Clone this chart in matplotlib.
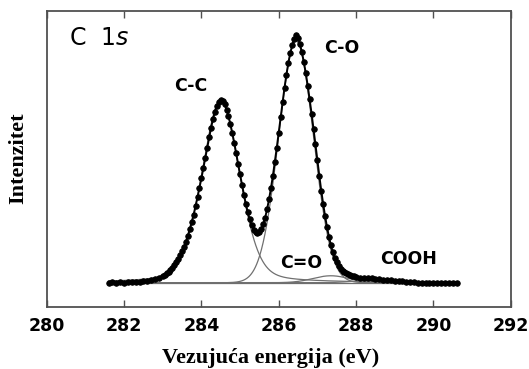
import numpy as np
import matplotlib
matplotlib.use("Agg")
import matplotlib.pyplot as plt

# --- C 1s spectrum: measured intensities (normalised, baseline = 0) ---
left_start, left_step = 281.6, 0.1
left_tail = [0.000, 0.002, -0.002, 0.001, 0.000, 0.003, 0.002, 0.004,
             0.003, 0.006, 0.007, 0.010, 0.015, 0.021, 0.029]

core_start, core_step = 283.05, 0.05
core = [
    # 283.05 - 283.95
    0.033, 0.038, 0.044, 0.052, 0.061, 0.071, 0.083, 0.096, 0.110, 0.126,
    0.145, 0.166, 0.190, 0.216, 0.245, 0.275, 0.309, 0.345, 0.382,
    # 284.00 - 284.95
    0.421, 0.462, 0.503, 0.545, 0.587, 0.625, 0.660, 0.690, 0.713, 0.728,
    0.737, 0.733, 0.720, 0.699, 0.672, 0.641, 0.604, 0.565, 0.522, 0.480,
    # 285.00 - 285.95
    0.437, 0.396, 0.356, 0.318, 0.284, 0.256, 0.232, 0.214, 0.203, 0.199,
    0.203, 0.215, 0.236, 0.263, 0.297, 0.337, 0.382, 0.432, 0.487, 0.545,
    # 286.00 - 286.95
    0.606, 0.667, 0.728, 0.787, 0.840, 0.888, 0.928, 0.959, 0.985, 1.000,
    0.988, 0.963, 0.930, 0.891, 0.846, 0.796, 0.741, 0.683, 0.622, 0.558,
    # 287.00 - 287.95
    0.494, 0.432, 0.372, 0.318, 0.268, 0.224, 0.185, 0.151, 0.123, 0.100,
    0.082, 0.068, 0.057, 0.049, 0.043, 0.038, 0.034, 0.031, 0.028, 0.026,
    # 288.00
    0.024,
]

right_start, right_step = 288.1, 0.1
right_tail = [0.020, 0.019, 0.018, 0.017, 0.016, 0.014, 0.012, 0.010, 0.009,
              0.007, 0.006, 0.005, 0.004, 0.002, 0.001, -0.001, -0.002,
              -0.003, -0.002, -0.003, -0.002, -0.001, -0.002, -0.001, 0.000,
              0.000]

# --- fitted components (pseudo-Voigt parameters) ---
comp_names = ["C-C", "C-O", "C=O", "COOH"]
comp_center = [284.50, 286.45, 287.35, 288.60]
comp_height = [0.735, 0.975, 0.028, 0.012]
comp_fwhm = [1.15, 1.06, 1.10, 1.30]
comp_lorentz = [0.25, 0.0, 0.0, 0.0]

# peak labels: (text, energy, intensity)
label_text = ["C-C", "C-O", "C=O", "COOH"]
label_x = [283.73, 287.64, 286.58, 289.37]
label_y = [0.796, 0.948, 0.080, 0.094]

x_ticks = [280, 282, 284, 286, 288, 290, 292]


def grid(start, step, values):
    return start + step * np.arange(len(values))


energy = np.concatenate([grid(left_start, left_step, left_tail),
                         grid(core_start, core_step, core),
                         grid(right_start, right_step, right_tail)])
intensity = np.array(left_tail + core + right_tail)


def pseudo_voigt(e, c, h, w, eta):
    x = 2.0 * (e - c) / w
    return h * (eta / (1.0 + x ** 2) + (1 - eta) * np.exp(-np.log(2) * x ** 2))


fig = plt.figure(figsize=(5.29, 3.69), dpi=100)
ax = fig.add_axes([0.0883, 0.1672, 0.8771, 0.8038])

e_fine = np.linspace(energy.min(), energy.max(), 800)
ax.plot([energy.min(), energy.max()], [0, 0], color="#6e6e6e", lw=0.9, zorder=1)
for c, h, w, eta in zip(comp_center, comp_height, comp_fwhm, comp_lorentz):
    ax.plot(e_fine, pseudo_voigt(e_fine, c, h, w, eta), color="#707070",
            lw=0.9, zorder=2)

ax.plot(energy, intensity, color="black", lw=1.4, zorder=3)
ax.plot(energy, intensity, "o", color="black", ms=4.0, mec="black",
        mew=0.6, zorder=4)

for t, lx, ly in zip(label_text, label_x, label_y):
    ax.text(lx, ly, t, ha="center", va="center", fontsize=12.5,
            fontweight="bold", family="DejaVu Sans")

ax.text(281.35, 0.988, r"C  1$\mathit{s}$", ha="center", va="center",
        fontsize=17, family="DejaVu Sans")

ax.set_xlim(280, 292)
ax.set_ylim(-0.0993, 1.098)
ax.set_xticks(x_ticks)
ax.set_xticklabels([str(v) for v in x_ticks], fontsize=12.5,
                   fontweight="bold", family="DejaVu Sans")
ax.set_yticks([])
ax.tick_params(axis="x", direction="in", top=True, bottom=True, length=5,
               width=1.0, color="#505050", pad=7)
for s in ax.spines.values():
    s.set_color("#505050")
    s.set_linewidth(1.3)

fig.text(271 / 529, 1 - 358 / 369, "Vezujuća energija (eV)", ha="center",
         va="center", fontsize=16, fontweight="bold",
         family="Liberation Serif")
fig.text(18.5 / 529, 1 - 158 / 369, "Intenzitet", ha="center", va="center",
         rotation=90, fontsize=16, fontweight="bold",
         family="Liberation Serif")

fig.savefig("out.png", dpi=100)
